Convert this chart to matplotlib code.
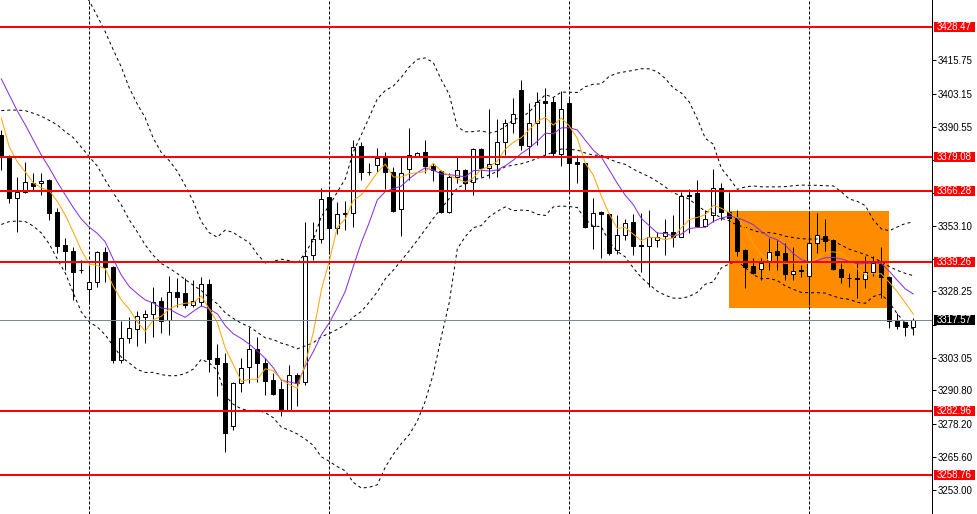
import numpy as np
import pandas as pd
import matplotlib
matplotlib.use("Agg")
import matplotlib.pyplot as plt
from matplotlib.patches import Rectangle
import matplotlib.transforms as mtransforms

plt.rcParams['font.family'] = ['Liberation Sans', 'DejaVu Sans']
plt.rcParams['lines.scale_dashes'] = False

# ---------------- data ----------------
opens = [3387.5, 3379.3, 3363.5, 3366.0, 3369.4, 3369.2, 3370.5, 3358.2, 3345.9, 3343.6,
         3336.4, 3329.1, 3331.7, 3343.2, 3337.4, 3302.3, 3310.6, 3314.0, 3318.7, 3319.6,
         3324.7, 3317.5, 3328.1, 3327.7, 3323.0, 3324.4, 3331.1, 3303.0, 3301.1, 3277.5,
         3293.5, 3299.6, 3306.4, 3301.3, 3294.8, 3291.2, 3283.4, 3296.7, 3294.1, 3342.1,
         3348.0, 3363.9, 3352.2, 3358.0, 3357.9, 3383.3, 3373.6, 3376.1, 3378.7, 3373.6,
         3359.4, 3374.5, 3379.7, 3381.0, 3375.8, 3374.0, 3358.5, 3371.5, 3374.3, 3369.8,
         3382.2, 3375.0, 3376.5, 3384.7, 3391.9, 3404.5, 3383.3, 3391.9, 3400.4, 3399.9,
         3380.2, 3399.5, 3377.2, 3376.8, 3353.1, 3358.5, 3357.6, 3344.0, 3349.7, 3354.5,
         3345.7, 3345.5, 3347.8, 3349.4, 3350.7, 3349.0, 3364.8, 3365.4, 3353.1, 3357.2,
         3367.3, 3358.5, 3356.0, 3344.0, 3337.9, 3336.7, 3339.5, 3343.7, 3342.7, 3334.8,
         3336.2, 3334.1, 3346.5, 3349.3, 3347.8, 3336.7, 3333.4, 3333.3, 3332.9, 3335.8,
         3338.6, 3333.9, 3317.5, 3316.5, 3314.9]
highs = [3389.4, 3379.9, 3371.7, 3377.4, 3373.0, 3373.0, 3370.7, 3359.8, 3348.4, 3345.2,
         3340.2, 3338.3, 3343.7, 3345.0, 3337.7, 3317.2, 3318.5, 3320.9, 3321.3, 3329.9,
         3326.1, 3334.1, 3333.3, 3333.3, 3332.4, 3333.6, 3332.9, 3308.4, 3304.9, 3294.1,
         3303.0, 3314.7, 3310.9, 3303.0, 3297.3, 3294.5, 3300.5, 3297.3, 3354.7, 3354.7,
         3367.3, 3365.4, 3362.0, 3362.5, 3385.4, 3385.0, 3376.8, 3382.5, 3381.2, 3375.5,
         3379.3, 3390.0, 3381.2, 3385.4, 3376.8, 3374.2, 3373.2, 3379.3, 3374.5, 3382.5,
         3382.5, 3397.3, 3393.6, 3393.4, 3401.4, 3408.3, 3399.5, 3403.9, 3405.2, 3401.8,
         3404.3, 3401.4, 3379.9, 3377.0, 3363.5, 3358.8, 3358.0, 3357.2, 3355.6, 3357.6,
         3357.9, 3359.1, 3350.9, 3355.5, 3357.2, 3366.0, 3366.9, 3370.5, 3359.1, 3374.6,
         3369.2, 3366.0, 3359.1, 3344.2, 3340.8, 3340.8, 3348.4, 3347.8, 3346.5, 3345.0,
         3338.3, 3358.5, 3358.1, 3355.6, 3348.1, 3338.9, 3335.2, 3339.9, 3341.7, 3341.7,
         3345.0, 3334.1, 3320.0, 3316.8, 3318.1]
lows = [3374.2, 3361.8, 3350.9, 3365.4, 3366.7, 3364.8, 3355.3, 3342.7, 3336.4, 3325.1,
        3335.4, 3323.5, 3330.1, 3332.0, 3301.3, 3301.3, 3308.7, 3307.7, 3308.9, 3310.9,
        3312.7, 3311.9, 3322.3, 3321.9, 3322.3, 3322.8, 3297.9, 3288.5, 3267.6, 3275.8,
        3290.3, 3293.7, 3294.1, 3289.1, 3289.1, 3281.1, 3283.2, 3284.9, 3292.9, 3340.2,
        3346.5, 3343.7, 3350.0, 3351.5, 3352.6, 3370.5, 3372.4, 3373.6, 3367.0, 3358.5,
        3349.3, 3370.5, 3379.3, 3373.0, 3370.2, 3357.9, 3358.1, 3369.2, 3366.7, 3364.8,
        3371.7, 3371.1, 3371.5, 3379.9, 3388.4, 3381.8, 3379.3, 3383.7, 3379.9, 3379.3,
        3375.8, 3366.0, 3369.4, 3352.2, 3344.2, 3340.8, 3342.1, 3342.5, 3347.8, 3342.1,
        3335.8, 3330.1, 3345.2, 3342.1, 3345.2, 3348.8, 3350.3, 3352.8, 3352.8, 3354.7,
        3355.3, 3339.5, 3341.7, 3329.5, 3334.9, 3332.6, 3336.4, 3336.4, 3332.6, 3332.6,
        3333.9, 3323.2, 3342.7, 3343.3, 3336.4, 3331.4, 3330.1, 3325.9, 3329.5, 3334.1,
        3325.7, 3314.3, 3314.0, 3311.2, 3311.8]
closes = [3379.2, 3363.5, 3366.0, 3369.6, 3368.3, 3370.1, 3358.1, 3345.6, 3343.7, 3335.8,
          3336.2, 3331.9, 3343.0, 3337.4, 3302.3, 3310.6, 3314.3, 3319.0, 3319.6, 3324.2,
          3317.2, 3328.1, 3326.3, 3323.2, 3324.6, 3331.0, 3302.7, 3300.8, 3274.8, 3293.5,
          3299.4, 3306.4, 3301.1, 3294.5, 3289.5, 3283.4, 3296.7, 3293.7, 3341.7, 3348.0,
          3363.2, 3352.2, 3357.6, 3357.4, 3383.1, 3373.6, 3373.3, 3378.7, 3373.6, 3358.8,
          3373.2, 3379.9, 3380.6, 3375.8, 3374.3, 3358.5, 3371.5, 3374.3, 3369.4, 3382.2,
          3375.1, 3376.5, 3384.7, 3391.9, 3395.4, 3383.7, 3391.9, 3400.1, 3399.7, 3380.6,
          3397.2, 3377.0, 3376.5, 3352.8, 3358.1, 3357.5, 3342.7, 3349.7, 3354.3, 3345.5,
          3345.3, 3349.0, 3348.8, 3350.7, 3349.0, 3364.4, 3364.2, 3353.1, 3355.6, 3367.3,
          3358.5, 3356.0, 3343.7, 3337.4, 3335.2, 3338.9, 3343.3, 3342.1, 3334.9, 3336.0,
          3336.0, 3346.5, 3349.5, 3347.5, 3336.7, 3333.6, 3333.2, 3333.1, 3335.8, 3338.9,
          3333.6, 3317.2, 3315.2, 3314.9, 3317.57]

# indicator values at the start of the window (history before the first bar is off-picture)
ma5_lead = [3393.9, 3382.9, 3377.3, 3373.5]
ma10_lead = [3408.7, 3402.6, 3396.6, 3391.3, 3385.6, 3379.9, 3375.0, 3369.7, 3364.8]
bb_mid_lead = [3396.7, 3396.9, 3396.9, 3396.7, 3395.7, 3394.6, 3393.0, 3391.3, 3388.7, 3386.5,
               3382.9, 3379.2, 3375.7, 3370.4, 3365.5, 3361.0, 3355.3, 3350.8, 3345.8]
bb_up_lead = [3455.0, 3456.0, 3457.0, 3458.0, 3457.0, 3456.0, 3455.0, 3452.0, 3449.0, 3446.0,
              3442.0, 3438.2, 3432.5, 3426.5, 3419.7, 3413.2, 3405.3, 3399.2, 3393.9]
bb_lo_lead = [3353.6, 3354.7, 3354.9, 3354.7, 3353.0, 3350.4, 3346.2, 3340.5, 3335.2, 3327.7,
              3320.5, 3316.7, 3314.8, 3311.8, 3307.6, 3303.4, 3301.2, 3298.7, 3297.6]

level_prices = [3428.47, 3379.08, 3366.28, 3339.26, 3282.96, 3258.76]
last_price = 3317.57
tick_values = [3415.75, 3403.15, 3390.55, 3353.10, 3328.25,
               3303.05, 3290.80, 3278.20, 3265.60, 3253.00]
hidden_ticks = [3378.00, 3365.60, 3340.70, 3315.65]
grid_bars = [11, 41, 71, 101]
zone_bars = [90.96, 110.96]
zone_prices = [3322.1, 3358.7]

# ---------------- indicators ----------------
n = len(closes)
idx = np.arange(n)
s = pd.Series(closes, dtype=float)
ma5 = s.rolling(5).mean().to_numpy()
ma5[:4] = ma5_lead
ma10 = s.rolling(10).mean().to_numpy()
ma10[:9] = ma10_lead
mid_s = s.rolling(20).mean()
sd_s = s.rolling(20).std(ddof=0)
bb_up = (mid_s + 2 * sd_s).to_numpy()
bb_lo = (mid_s - 2 * sd_s).to_numpy()
bb_mid = mid_s.to_numpy()
bb_mid[:19] = bb_mid_lead
bb_up[:19] = bb_up_lead
bb_lo[:19] = bb_lo_lead

# ---------------- figure ----------------
W, H = 977, 514
fig = plt.figure(figsize=(W / 100, H / 100), dpi=100)
fig.patch.set_facecolor('white')
ax_right = 932 / W
ax = fig.add_axes([0, 0, ax_right, 1])
ax.set_facecolor('white')
ax.set_xlim(-0.1625, 116.34)
ax.set_ylim(3244.0, 3438.58)

PX = 0.72  # points per pixel

# highlighted zone
ax.add_patch(Rectangle((zone_bars[0], zone_prices[0]), zone_bars[1] - zone_bars[0],
                       zone_prices[1] - zone_prices[0], facecolor='#FF8C00',
                       edgecolor='none', zorder=1))

# vertical dashed grid
for b in grid_bars:
    ax.axvline(b, color='black', lw=1 * PX, ls=(0, (3 * PX, 2 * PX)), zorder=2)

# candles
ax.vlines(idx, lows, highs, color='black', lw=1 * PX, zorder=3)
for i in range(n):
    o, c = opens[i], closes[i]
    bottom = min(o, c)
    h = abs(c - o)
    face = 'white' if c >= o else 'black'
    ax.add_patch(Rectangle((i - 0.25, bottom), 0.5, h, facecolor=face,
                           edgecolor='black', lw=1 * PX, zorder=3.5))

# bollinger bands (dotted black)
for band in (bb_up, bb_mid, bb_lo):
    ax.plot(idx, band, color='black', lw=1 * PX, ls=(0, (3 * PX, 3 * PX)), zorder=4)

# moving averages
ax.plot(idx, ma10, color='#8A2BE2', lw=1 * PX, zorder=4.2)
ax.plot(idx, ma5, color='#FFA500', lw=1 * PX, zorder=4.3)

# horizontal levels
for p in level_prices:
    ax.axhline(p, color='#FF0000', lw=2 * PX, zorder=5)
ax.axhline(last_price, color='#778899', lw=1 * PX, zorder=5)

# axes styling
for sp in ('top', 'left', 'bottom'):
    ax.spines[sp].set_visible(False)
ax.spines['right'].set_color('black')
ax.spines['right'].set_linewidth(1 * PX)
ax.set_xticks([])
ax.yaxis.tick_right()
all_ticks = sorted(tick_values + hidden_ticks, reverse=True)
ax.set_yticks(all_ticks)
ax.set_yticklabels([f"{v:.2f}" if v in tick_values else "" for v in all_ticks])
ax.tick_params(axis='y', direction='out', length=4 * PX, width=1 * PX, pad=1.5,
               labelsize=7, colors='black', right=True, labelright=True,
               left=False, labelleft=False)

# price labels on the axis
tr = mtransforms.blended_transform_factory(fig.transFigure, ax.transData)
box_h = 10 / 2.6416
box_x0 = 934 / W
box_w = 41 / W


def price_label(p, bg):
    fig.add_artist(Rectangle((box_x0, p - box_h / 2), box_w, box_h, transform=tr,
                             facecolor=bg, edgecolor='none', zorder=5))
    fig.text(936.5 / W, p, f"{p:.2f}", transform=tr, color='white', fontsize=7,
             va='center', ha='left', zorder=6)


for p in level_prices:
    price_label(p, '#FF0000')
price_label(last_price, 'black')

fig.savefig('out.png', dpi=100, facecolor='white')
